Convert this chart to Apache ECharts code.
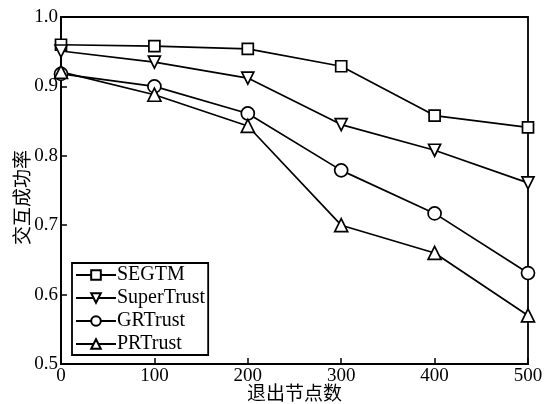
<!DOCTYPE html>
<html><head><meta charset="utf-8">
<script src="https://cdn.jsdelivr.net/npm/echarts@6/dist/echarts.min.js"></script>
<style>html,body{margin:0;padding:0;background:#fff}#c{width:550px;height:404px}</style>
</head><body><div id="c"></div>
<script>
const categories = [0, 100, 200, 300, 400, 500];
const segtm = [0.960, 0.958, 0.954, 0.929, 0.858, 0.841];
const superTrust = [0.951, 0.935, 0.912, 0.845, 0.808, 0.761];
const grTrust = [0.918, 0.900, 0.861, 0.779, 0.717, 0.631];
const prTrust = [0.921, 0.888, 0.843, 0.700, 0.660, 0.570];
const seriesNames = ['SEGTM', 'SuperTrust', 'GRTrust', 'PRTrust'];
const xTitle = '退出节点数';
const yTitle = '交互成功率';

const font = 'Liberation Serif, Times New Roman, serif';
const cjk = 'Noto Sans CJK SC';
const downTri = 'path://M0,0 L10,0 L5,9 Z';
const symbols = ['rect', downTri, 'circle', 'triangle'];
const sizes = [11, 12, 13, 13];
const dataSets = [segtm, superTrust, grTrust, prTrust];

const chart = echarts.init(document.getElementById('c'), null, {renderer: 'canvas'});
chart.setOption({
  animation: false,
  backgroundColor: '#fff',
  grid: {left: 61, right: 22, top: 17, bottom: 40, containLabel: false, outerBoundsMode: 'none',
         show: true, borderColor: '#000', borderWidth: 1.8, backgroundColor: 'transparent'},
  legend: {
    left: 72, top: 263, orient: 'vertical', itemGap: 3, itemWidth: 40, itemHeight: 12,
    backgroundColor: '#fff', borderColor: '#000', borderWidth: 1.8, padding: [2, 3, 1, 3],
    textStyle: {fontFamily: font, fontSize: 20, color: '#000', padding: [0, 0, 0, -4], lineHeight: 17},
    data: seriesNames
  },
  xAxis: {
    type: 'value', min: 0, max: 500, interval: 100,
    name: xTitle, nameLocation: 'middle', nameGap: 19, nameMoveOverlap: false,
    nameTextStyle: {fontFamily: cjk, fontSize: 19, color: '#000'},
    axisLine: {lineStyle: {color: '#000', width: 1.8}},
    axisTick: {inside: true, length: 6, lineStyle: {color: '#000', width: 1.5}},
    axisLabel: {fontFamily: font, fontSize: 19, color: '#000', margin: 3},
    splitLine: {show: false}
  },
  yAxis: {
    type: 'value', min: 0.5, max: 1.0, interval: 0.1,
    name: yTitle, nameLocation: 'middle', nameGap: 30, nameRotate: 90, nameMoveOverlap: false,
    nameTextStyle: {fontFamily: cjk, fontSize: 19, color: '#000', padding: [0, 14, 0, 0]},
    axisLine: {lineStyle: {color: '#000', width: 1.8}},
    axisTick: {inside: true, length: 6, lineStyle: {color: '#000', width: 1.5}},
    axisLabel: {fontFamily: font, fontSize: 19, color: '#000', margin: 3, formatter: v => v.toFixed(1)},
    splitLine: {show: false}
  },
  series: seriesNames.map((n, i) => ({
    name: n, type: 'line',
    data: categories.map((x, j) => [x, dataSets[i][j]]),
    symbol: symbols[i], symbolSize: sizes[i], showAllSymbol: true,
    lineStyle: {color: '#000', width: 1.7},
    itemStyle: {color: '#fff', borderColor: '#000', borderWidth: 1.7},
    z: 3
  }))
});
</script></body></html>
